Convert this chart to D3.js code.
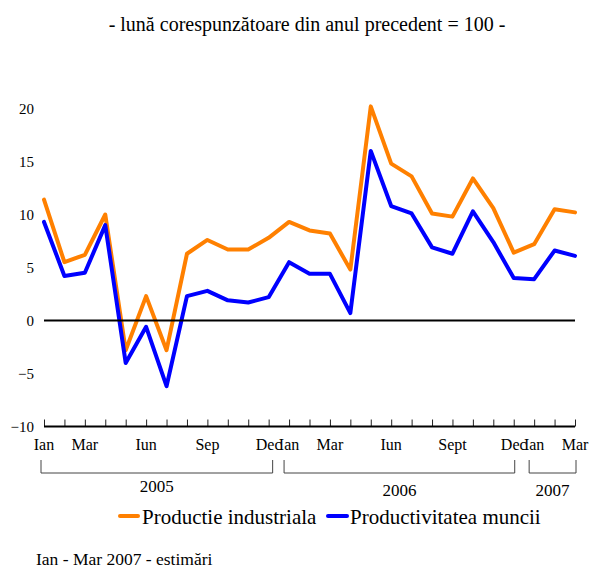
<!DOCTYPE html>
<html>
<head>
<meta charset="utf-8">
<script src="https://cdn.jsdelivr.net/npm/d3@7"></script>
<style>
  html, body { margin: 0; padding: 0; background: #fff; }
  svg, svg text { font-family: "Liberation Serif", "Times New Roman", serif; }
  svg { display: block; }
</style>
</head>
<body>
<svg id="chart" width="589" height="568"></svg>
<script>
// ---- data ----
const monthLabels = ["Ian","","Mar","","","Iun","","","Sep","","","Dec",
                     "Ian","","Mar","","","Iun","","","Sept","","","Dec",
                     "Ian","","Mar"];
const yearGroups = [
  { label: "2005", from: 0, to: 11 },
  { label: "2006", from: 12, to: 23 },
  { label: "2007", from: 24, to: 26 }
];
const productieIndustriala = [11.4, 5.5, 6.2, 10.0, -2.8, 2.3, -2.8, 6.3, 7.6, 6.7, 6.7, 7.8,
                              9.3, 8.5, 8.2, 4.8, 20.2, 14.8, 13.6, 10.1, 9.8, 13.4, 10.6, 6.4,
                              7.2, 10.5, 10.2];
const productivitateaMuncii = [9.3, 4.2, 4.5, 9.0, -4.0, -0.6, -6.2, 2.3, 2.8, 1.9, 1.7, 2.2,
                               5.5, 4.4, 4.4, 0.7, 16.0, 10.8, 10.1, 6.9, 6.3, 10.3, 7.4, 4.0,
                               3.9, 6.6, 6.1];
const yTicks = [-10, -5, 0, 5, 10, 15, 20];
const seriesNames = ["Productie industriala", "Productivitatea muncii"];
const seriesColors = ["#FF8000", "#0000FF"];
const titleText = "- lună corespunzătoare din anul precedent = 100 -";
const footnoteText = "Ian - Mar 2007 - estimări";

// ---- scales ----
const svg = d3.select("#chart");
const idx = d3.range(monthLabels.length);
const x = d3.scalePoint().domain(idx).range([44, 575]);
const y = d3.scaleLinear().domain([-10, 20]).range([426.5, 108.5]);
const serif = "'Liberation Serif', 'Times New Roman', serif";

// title
svg.append("text").attr("x", 307).attr("y", 31).attr("text-anchor", "middle")
  .attr("font-size", 20).attr("fill", "#000").text(titleText);

// y tick labels
const yAxis = d3.axisLeft(y).tickValues(yTicks).tickSize(0).tickPadding(0);
const yg = svg.append("g").attr("transform", "translate(34,0)").call(yAxis);
yg.attr("font-family", null).attr("font-size", null);
yg.select(".domain").remove();
yg.selectAll("text").style("font-family", serif).attr("font-size", 15).attr("fill", "#000");

// x axis with ticks pointing up
const xAxis = d3.axisTop(x).tickSize(7).tickFormat("");
const xg = svg.append("g").attr("transform", `translate(0,${y(-10)})`).call(xAxis);
xg.select(".domain").remove();
xg.selectAll(".tick line").attr("stroke", "#222").attr("stroke-width", 1);
svg.append("line").attr("x1", x(0)).attr("x2", x(idx.length - 1))
  .attr("y1", y(-10)).attr("y2", y(-10)).attr("stroke", "#000").attr("stroke-width", 2);

// month labels
svg.append("g").selectAll("text").data(idx.filter(i => monthLabels[i] !== ""))
  .join("text")
  .attr("x", i => x(i)).attr("y", 450).attr("text-anchor", "middle")
  .attr("font-size", 16).attr("fill", "#000")
  .text(i => monthLabels[i]);

// year brackets
const bg = svg.append("g");
yearGroups.forEach((g, k) => {
  const x1 = x(g.from) - (k === 0 ? 3 : 5);
  const x2 = x(g.to) + (k === 0 ? 4 : 1);
  const top = 460, bot = 473;
  bg.append("path").attr("d", `M${x1},${top}V${bot}H${x2}V${top}`)
    .attr("fill", "none").attr("stroke", "#444").attr("stroke-width", 1);
  bg.append("text").attr("x", (x1 + x2) / 2).attr("y", k === 0 ? 492 : 496)
    .attr("text-anchor", "middle").attr("font-size", 17).attr("fill", "#000").text(g.label);
});

// lines
const line = d3.line().x((d, i) => x(i)).y(d => y(d)).curve(d3.curveLinear);
[productieIndustriala, productivitateaMuncii].forEach((s, k) => {
  svg.append("path").datum(s).attr("d", line)
    .attr("fill", "none").attr("stroke", seriesColors[k]).attr("stroke-width", 4)
    .attr("stroke-linejoin", "round").attr("stroke-linecap", "round");
});

// zero line
svg.append("line").attr("x1", x(0)).attr("x2", x(idx.length - 1))
  .attr("y1", y(0)).attr("y2", y(0)).attr("stroke", "#000").attr("stroke-width", 2);

// legend
const legendItems = [{ x: 118, w: 22, tx: 142 }, { x: 326, w: 23, tx: 350 }];
seriesNames.forEach((n, k) => {
  const L = legendItems[k];
  svg.append("line").attr("x1", L.x + 2).attr("x2", L.x + L.w - 2).attr("y1", 516).attr("y2", 516)
    .attr("stroke", seriesColors[k]).attr("stroke-width", 4).attr("stroke-linecap", "round");
  svg.append("text").attr("x", L.tx).attr("y", 524).attr("font-size", 21).attr("fill", "#000").text(n);
});

// footnote
svg.append("text").attr("x", 36).attr("y", 565).attr("font-size", 17.5).attr("fill", "#000").text(footnoteText);
</script>
</body>
</html>
